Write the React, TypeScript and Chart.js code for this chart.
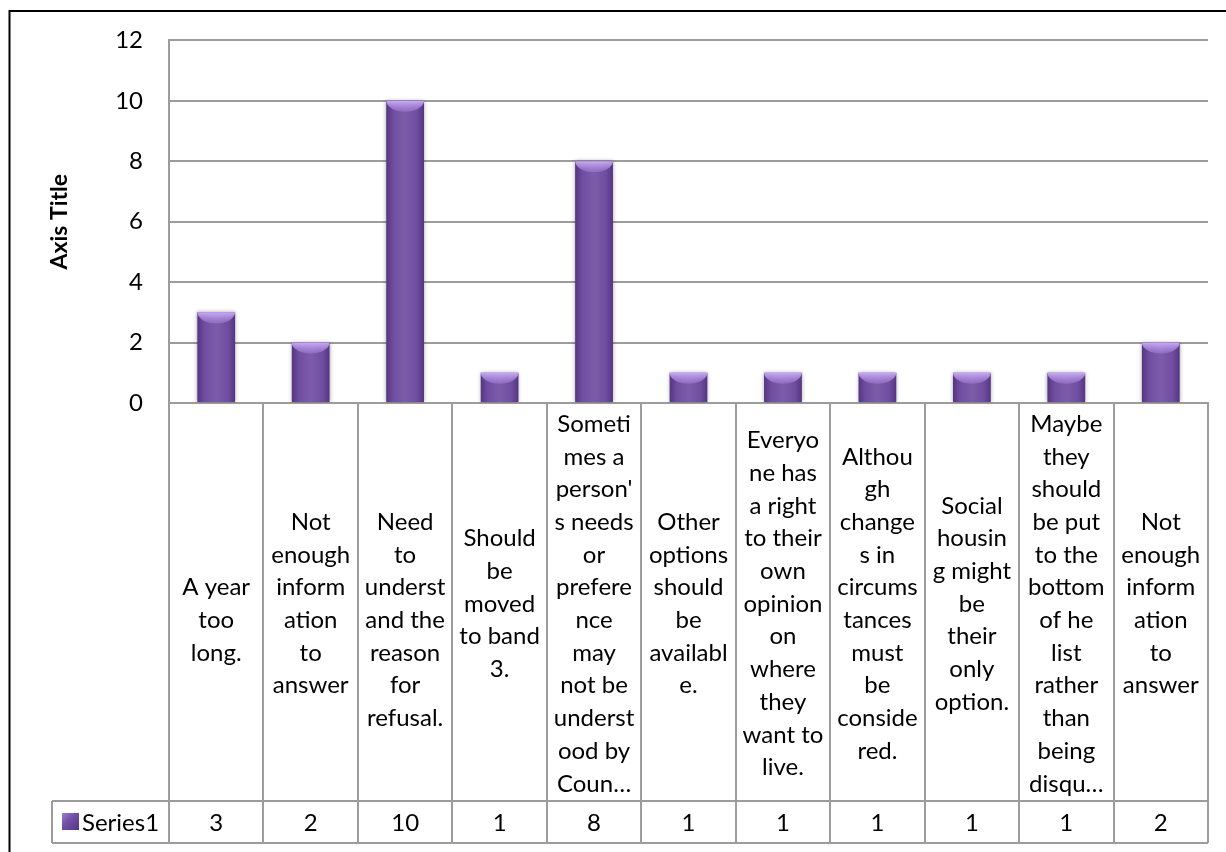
import React, { useEffect, useRef } from "react";
import { Chart, registerables } from "chart.js";

Chart.register(...registerables);

// Category labels (as wrapped in the data table cells)
const categories: string[][] = [
  ["", "A year", "too", "long."],
  ["Not", "enough", "inform", "ation", "to", "answer"],
  ["", "Need", "to", "underst", "and the", "reason", "for", "refusal."],
  ["Should", "be", "moved", "to band", "3."],
  ["Someti", "mes a", "person'", "s needs", "or", "prefere", "nce", "may", "not be", "underst", "ood by", "Coun…"],
  ["Other", "options", "should", "be", "availabl", "e."],
  ["Everyo", "ne has", "a right", "to their", "own", "opinion", "on", "where", "they", "want to", "live."],
  ["Althou", "gh", "change", "s in", "circums", "tances", "must", "be", "conside", "red."],
  ["Social", "housin", "g might", "be", "their", "only", "option."],
  ["Maybe", "they", "should", "be put", "to the", "bottom", "of he", "list", "rather", "than", "being", "disqu…"],
  ["Not", "enough", "inform", "ation", "to", "answer"],
];
const values: number[] = [3, 2, 10, 1, 8, 1, 1, 1, 1, 1, 2];
const seriesName = "Series1";
const yMin = 0;
const yMax = 12;
const yStep = 2;
const axisTitle = "Axis Title";

const FONT = "Lato, 'Open Sans', sans-serif";
const GRID = "#9c9c9c";
const BAR = "#7451a5";

const framePlugin = {
  id: "frameAndTable",
  beforeDatasetDraw(chart: any) {
    const ctx = chart.ctx;
    ctx.save();
    ctx.shadowColor = "rgba(0,0,0,0.35)";
    ctx.shadowBlur = 4;
    ctx.shadowOffsetX = 0;
    ctx.shadowOffsetY = 0;
  },
  afterDatasetDraw(chart: any) {
    chart.ctx.restore();
  },
  afterDatasetsDraw(chart: any) {
    const ctx = chart.ctx;
    const meta = chart.getDatasetMeta(0);
    meta.data.forEach((bar: any) => {
      const { x, y, base, width } = bar.getProps(["x", "y", "base", "width"], true);
      const left = x - width / 2;
      const h = base - y;
      ctx.save();
      ctx.beginPath();
      ctx.rect(left, y, width, h);
      ctx.clip();
      const g = ctx.createLinearGradient(left, 0, left + width, 0);
      g.addColorStop(0, "rgba(45,20,85,0.45)");
      g.addColorStop(0.18, "rgba(45,20,85,0.08)");
      g.addColorStop(0.5, "rgba(255,255,255,0.06)");
      g.addColorStop(0.82, "rgba(45,20,85,0.08)");
      g.addColorStop(1, "rgba(45,20,85,0.45)");
      ctx.fillStyle = g;
      ctx.fillRect(left, y, width, h);
      const cap = Math.min(11, h / 2);
      const g2 = ctx.createLinearGradient(0, y, 0, y + cap);
      g2.addColorStop(0, "rgba(205,175,250,0.95)");
      g2.addColorStop(1, "rgba(180,145,230,0.35)");
      ctx.fillStyle = g2;
      ctx.beginPath();
      ctx.ellipse(x, y, width * 0.5, cap, 0, 0, Math.PI * 2);
      ctx.fill();
      ctx.restore();
    });
  },
  afterDraw(chart: any) {
    const { ctx, chartArea } = chart;
    const xs = chart.scales.x;
    const n = values.length;
    const rowTop = 801;
    const rowBottom = 843;
    const keyLeft = 52;
    const lineH = 32.7;
    const labelCenter = (chartArea.bottom + rowTop) / 2 + 2;

    ctx.save();
    ctx.strokeStyle = GRID;
    ctx.lineWidth = 2;
    ctx.beginPath();
    ctx.moveTo(keyLeft, rowTop);
    ctx.lineTo(chartArea.right, rowTop);
    ctx.moveTo(keyLeft, rowBottom);
    ctx.lineTo(chartArea.right, rowBottom);
    ctx.moveTo(keyLeft, rowTop);
    ctx.lineTo(keyLeft, rowBottom);
    ctx.stroke();

    ctx.fillStyle = "#000";
    ctx.font = `24px ${FONT}`;
    ctx.textAlign = "center";
    ctx.textBaseline = "middle";
    for (let i = 0; i < n; i++) {
      const cx = xs.getPixelForValue(i);
      const lines = categories[i];
      const start = labelCenter - ((lines.length - 1) * lineH) / 2;
      lines.forEach((t, j) => ctx.fillText(t, cx, start + j * lineH));
      ctx.fillText(String(values[i]), cx, (rowTop + rowBottom) / 2 + 1);
    }

    const kx = 62, ky = 813, ks = 17;
    const kg = ctx.createLinearGradient(kx, ky, kx + ks, ky + ks);
    kg.addColorStop(0, "#a07fd0");
    kg.addColorStop(0.4, "#7451a5");
    kg.addColorStop(1, "#55368a");
    ctx.fillStyle = kg;
    ctx.fillRect(kx, ky, ks, ks);
    ctx.fillStyle = "#000";
    ctx.textAlign = "left";
    ctx.fillText(seriesName, 82, (rowTop + rowBottom) / 2 + 1);

    ctx.strokeStyle = "#000";
    ctx.lineWidth = 2;
    ctx.beginPath();
    ctx.moveTo(9.5, 852);
    ctx.lineTo(9.5, 11);
    ctx.lineTo(1226, 11);
    ctx.stroke();
    ctx.restore();
  },
};

export default function App() {
  const ref = useRef<HTMLCanvasElement | null>(null);
  useEffect(() => {
    if (!ref.current) return;
    const chart = new Chart(ref.current, {
      type: "bar",
      data: {
        labels: categories.map((c) => c.filter((s) => s).join(" ")),
        datasets: [
          {
            label: seriesName,
            data: values,
            backgroundColor: BAR,
            borderWidth: 0,
            categoryPercentage: 1,
            barPercentage: 0.4,
          },
        ],
      },
      options: {
        responsive: false,
        animation: false,
        layout: { padding: { left: 0, top: 40, right: 18, bottom: 0 } },
        plugins: { legend: { display: false }, tooltip: { enabled: false } },
        scales: {
          x: {
            grid: {
              display: true,
              offset: true,
              drawOnChartArea: false,
              drawTicks: true,
              tickLength: 440,
              color: GRID,
              lineWidth: 2,
            },
            border: { color: GRID, width: 2 },
            ticks: { display: false },
            afterFit: (s: any) => {
              s.height = 449;
            },
          },
          y: {
            min: yMin,
            max: yMax,
            ticks: {
              stepSize: yStep,
              padding: 26,
              color: "#000",
              font: { family: FONT, size: 24 },
            },
            grid: { color: GRID, lineWidth: 2, drawTicks: false },
            border: { color: GRID, width: 2 },
            title: {
              display: true,
              text: axisTitle,
              color: "#000",
              font: { family: FONT, size: 23, weight: "bold" },
              padding: { top: 46, bottom: 0 },
            },
            afterFit: (s: any) => {
              s.width = 169;
            },
          },
        },
      },
      plugins: [framePlugin],
    } as any);
    return () => chart.destroy();
  }, []);
  return (
    <div style={{ position: "absolute", left: 0, top: 0, width: 1226, height: 852, background: "#fff" }}>
      <canvas ref={ref} width={1226} height={852} style={{ display: "block", width: 1226, height: 852 }} />
    </div>
  );
}
